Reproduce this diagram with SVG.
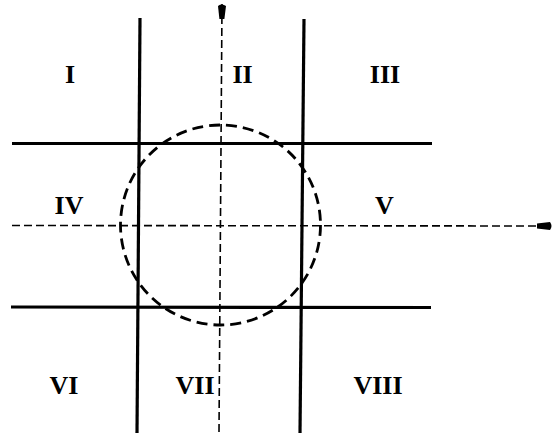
<svg xmlns="http://www.w3.org/2000/svg" width="554" height="435" viewBox="0 0 554 435">
<defs>
<style>
.solid{stroke:#000;stroke-width:3.2;fill:none;stroke-linecap:butt}
.axis{stroke:#000;stroke-width:1.6;fill:none;stroke-dasharray:8 4}
.circ{stroke:#000;stroke-width:2.8;fill:none;stroke-dasharray:11 6}
.lbl{font-family:"Liberation Serif","Times New Roman",serif;font-weight:bold;font-size:26px;fill:#000;text-anchor:middle}
</style>
<marker id="arr" viewBox="0 0 16 8" refX="15" refY="4" markerWidth="16" markerHeight="8" markerUnits="userSpaceOnUse" orient="auto">
<path d="M0,1.5 L13,0 Q16,4 13,8 L0,6.5 Z" fill="#000"/>
</marker>
</defs>
<rect width="554" height="435" fill="#fff"/>
<g id="connectors">
<line class="solid" x1="140" y1="18" x2="137" y2="433"/>
<line class="solid" x1="304" y1="19" x2="300" y2="433"/>
<line class="solid" x1="12" y1="143.5" x2="432" y2="143.5"/>
<line class="solid" x1="11" y1="307" x2="431" y2="307.5"/>
<line class="axis" x1="219" y1="432" x2="222" y2="4" marker-end="url(#arr)"/>
<line class="axis" x1="12" y1="225.5" x2="552" y2="226" marker-end="url(#arr)"/>
</g>
<g id="circle">
<circle class="circ" cx="220.5" cy="225" r="100"/>
</g>
<g id="labels">
<g id="region-I"><text class="lbl" x="70" y="83">I</text></g>
<g id="region-II"><text class="lbl" x="242.5" y="83">II</text></g>
<g id="region-III"><text class="lbl" x="385" y="83">III</text></g>
<g id="region-IV"><text class="lbl" x="69" y="214">IV</text></g>
<g id="region-V"><text class="lbl" x="384.5" y="214">V</text></g>
<g id="region-VI"><text class="lbl" x="64" y="394">VI</text></g>
<g id="region-VII"><text class="lbl" x="195" y="394">VII</text></g>
<g id="region-VIII"><text class="lbl" x="378" y="394">VIII</text></g>
</g>
</svg>
